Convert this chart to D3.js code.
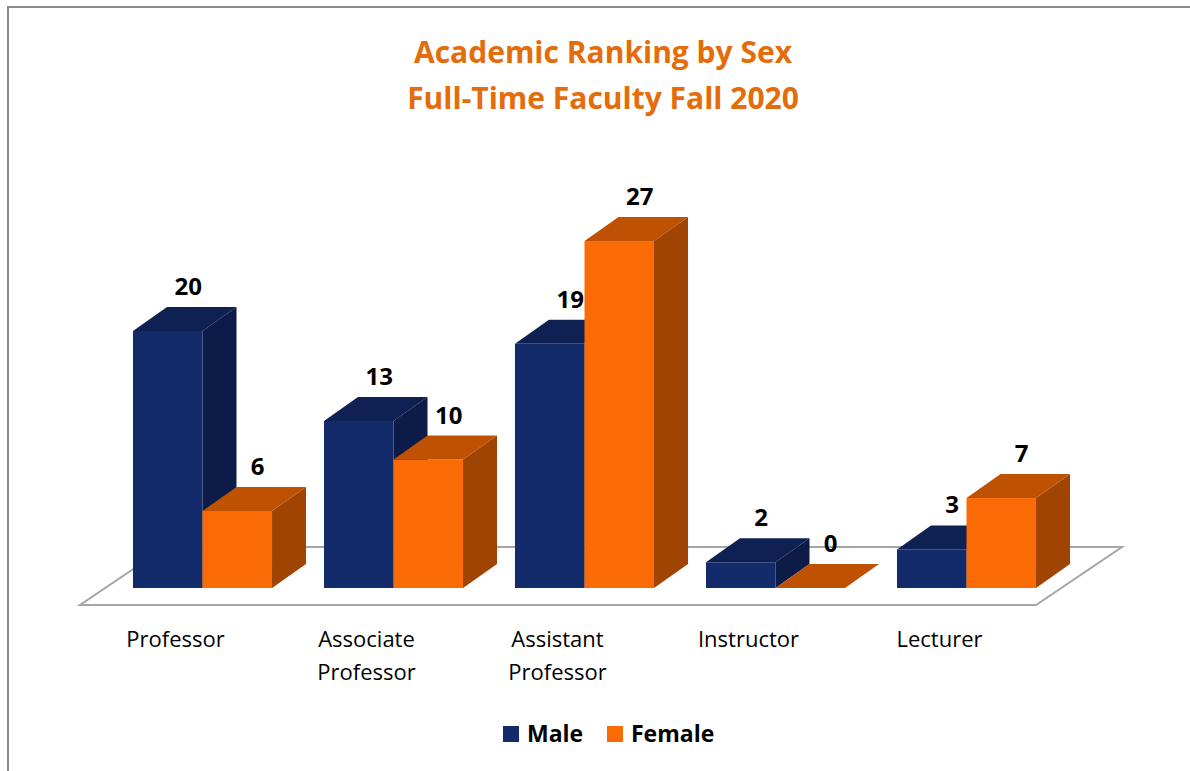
<!DOCTYPE html>
<html>
<head>
<meta charset="utf-8">
<script src="https://cdn.jsdelivr.net/npm/d3@7"></script>
<style>
  body { margin: 0; background: #fff; }
  svg { display: block; font-family: "Open Sans", "Noto Sans", sans-serif; }
</style>
</head>
<body>
<svg width="1190" height="771"></svg>
<script>
// chart data
var categories = ["Professor", "Associate Professor", "Assistant Professor", "Instructor", "Lecturer"];
var series = ["Male", "Female"];
var maleValues = [20, 13, 19, 2, 3];
var femaleValues = [6, 10, 27, 0, 7];
var titleLines = ["Academic Ranking by Sex", "Full-Time Faculty Fall 2020"];

var colors = {
  Male:   { front: "#132a6b", top: "#0f2153", side: "#0c1b47" },
  Female: { front: "#fb6b05", top: "#bf5102", side: "#a04403" }
};

var svg = d3.select("svg");

// outer frame (only top + left edges show in the original)
svg.append("path")
   .attr("d", "M8,771 L8,7 L1190,7")
   .attr("fill", "none")
   .attr("stroke", "#8a8a8a")
   .attr("stroke-width", 2);

// title
svg.append("g").selectAll("text")
   .data(titleLines)
   .enter().append("text")
   .attr("x", 603)
   .attr("y", function(d, i) { return 63 + i * 46; })
   .attr("text-anchor", "middle")
   .attr("font-size", 30)
   .attr("font-weight", "bold")
   .attr("fill", "#e46c0a")
   .text(function(d) { return d; });

var base = 588;      // front bottom of bars
var dx = 34, dy = -24; // bar depth offset

var xScale = d3.scaleBand()
    .domain(categories)
    .range([107, 1062])
    .paddingInner(0.272)
    .paddingOuter(0.136);

var xSub = d3.scaleBand()
    .domain(series)
    .range([0, xScale.bandwidth()]);

var yScale = d3.scaleLinear()
    .domain([0, 20])
    .range([base, 331]);

// floor
svg.append("path")
   .attr("d", "M80,605 L1036,605 L1122,547 L166,547 Z")
   .attr("fill", "#fff")
   .attr("stroke", "#a6a6a6")
   .attr("stroke-width", 2);

var rows = categories.map(function(c, i) {
  return { cat: c, Male: maleValues[i], Female: femaleValues[i] };
});

var groups = svg.append("g").selectAll("g")
    .data(rows)
    .enter().append("g");

var w = xSub.bandwidth();

groups.each(function(r) {
  var g = d3.select(this);
  series.forEach(function(s) {
    var x = xScale(r.cat) + xSub(s);
    var top = yScale(r[s]);
    var c = colors[s];
    if (r[s] > 0) {
      g.append("path")
       .attr("d", "M" + (x + w) + "," + top + " L" + (x + w + dx) + "," + (top + dy) +
                  " L" + (x + w + dx) + "," + (base + dy) + " L" + (x + w) + "," + base + " Z")
       .attr("fill", c.side);
      g.append("rect")
       .attr("x", x)
       .attr("y", top)
       .attr("width", w)
       .attr("height", base - top)
       .attr("fill", c.front);
    }
    g.append("path")
     .attr("d", "M" + x + "," + top + " L" + (x + dx) + "," + (top + dy) +
                " L" + (x + w + dx) + "," + (top + dy) + " L" + (x + w) + "," + top + " Z")
     .attr("fill", c.top);
  });
});

// value labels
groups.each(function(r) {
  var g = d3.select(this);
  series.forEach(function(s) {
    var x = xScale(r.cat) + xSub(s);
    g.append("text")
     .attr("x", x + w / 2 + dx * 0.6)
     .attr("y", yScale(r[s]) + dy - 12)
     .attr("text-anchor", "middle")
     .attr("font-size", 24)
     .attr("font-weight", "bold")
     .attr("fill", "#000")
     .text(r[s]);
  });
});

// category labels (wrapped at the space for two-word names)
var catLabels = svg.append("g").selectAll("text")
    .data(categories)
    .enter().append("text")
    .attr("text-anchor", "middle")
    .attr("font-size", 22)
    .attr("fill", "#000");

catLabels.each(function(d) {
  var t = d3.select(this);
  var cx = xScale(d) + xScale.bandwidth() / 2 - 27;
  var words = d.split(" ");
  words.forEach(function(wd, i) {
    t.append("tspan")
     .attr("x", cx)
     .attr("y", 647 + i * 33)
     .text(wd);
  });
});

// legend
var legend = svg.append("g").attr("transform", "translate(503,726)");
var legendX = [0, 104];
series.forEach(function(s, i) {
  legend.append("rect")
   .attr("x", legendX[i])
   .attr("y", 0)
   .attr("width", 16)
   .attr("height", 16)
   .attr("fill", colors[s].front);
  legend.append("text")
   .attr("x", legendX[i] + 24)
   .attr("y", 16)
   .attr("font-size", 23)
   .attr("font-weight", "bold")
   .attr("fill", "#000")
   .text(s);
});
</script>
</body>
</html>
